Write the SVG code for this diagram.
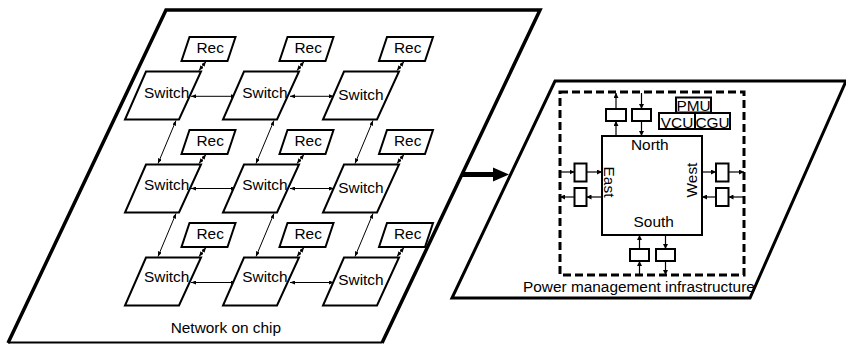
<svg xmlns="http://www.w3.org/2000/svg" width="846" height="344" viewBox="0 0 846 344">
<style>
text{font-family:"Liberation Sans",Arial,sans-serif;font-size:15.4px;fill:#000}
.sw,.rec{fill:#fff;stroke:#000;stroke-width:2;stroke-linejoin:miter}
.frame{fill:none;stroke:#000;stroke-width:3.5;stroke-linejoin:miter}
.c{stroke:#000;stroke-width:1;fill:none;marker-start:url(#as);marker-end:url(#ae)}
.p{stroke:#000;stroke-width:1.2;fill:none;marker-end:url(#pe)}
.reg{fill:#fff;stroke:#000;stroke-width:2}
.u{fill:#fff;stroke:#000;stroke-width:2}
</style>
<defs>
<marker id="ae" markerUnits="userSpaceOnUse" markerWidth="5" markerHeight="4" refX="5" refY="2" orient="auto"><path d="M0,0 L5,2 L0,4 z" fill="#000"/></marker>
<marker id="as" markerUnits="userSpaceOnUse" markerWidth="5" markerHeight="4" refX="0" refY="2" orient="auto"><path d="M5,0 L0,2 L5,4 z" fill="#000"/></marker>
<marker id="pe" markerUnits="userSpaceOnUse" markerWidth="5" markerHeight="5" refX="5" refY="2.5" orient="auto"><path d="M0,0 L5,2.5 L0,5 z" fill="#000"/></marker>
</defs>

<g id="noc-frame">
<path class="frame" d="M8,343 L166,10 L540,10 L382,343"/>
<line x1="8" y1="342.5" x2="382" y2="342.5" stroke="#000" stroke-width="1.8"/>
<text x="170.7" y="333">Network on chip</text>
</g>

<g id="connectors">
<line class="c" x1="191" y1="96.3" x2="236" y2="96.3"/>
<line class="c" x1="290" y1="96.3" x2="334" y2="96.3"/>
<line class="c" x1="191" y1="188.5" x2="236" y2="188.5"/>
<line class="c" x1="290" y1="188.5" x2="334" y2="188.5"/>
<line class="c" x1="191" y1="282.5" x2="236" y2="282.5"/>
<line class="c" x1="290" y1="282.5" x2="334" y2="282.5"/>
<line class="c" x1="176" y1="120.5" x2="158" y2="163.5"/>
<line class="c" x1="274" y1="120.5" x2="256" y2="163.5"/>
<line class="c" x1="373" y1="120.5" x2="355" y2="163.5"/>
<line class="c" x1="176" y1="213.5" x2="158" y2="256.5"/>
<line class="c" x1="274" y1="213.5" x2="256" y2="256.5"/>
<line class="c" x1="373" y1="213.5" x2="355" y2="256.5"/>
<line class="c" x1="199" y1="70.5" x2="206" y2="61.5"/>
<line class="c" x1="297" y1="70.5" x2="304" y2="61.5"/>
<line class="c" x1="397" y1="70.5" x2="404" y2="61.5"/>
<line class="c" x1="199" y1="163.5" x2="206" y2="154.5"/>
<line class="c" x1="297" y1="163.5" x2="304" y2="154.5"/>
<line class="c" x1="397" y1="163.5" x2="404" y2="154.5"/>
<line class="c" x1="199" y1="256.5" x2="206" y2="247.5"/>
<line class="c" x1="297" y1="256.5" x2="304" y2="247.5"/>
<line class="c" x1="397" y1="256.5" x2="404" y2="247.5"/>
<line x1="462" y1="174.5" x2="494" y2="174.5" stroke="#000" stroke-width="5"/>
<polygon points="493,167.5 509,174.5 493,181.5" fill="#000"/>
<line class="p" x1="616" y1="136" x2="616" y2="121"/>
<line class="p" x1="616" y1="109" x2="616" y2="93"/>
<line class="p" x1="641.5" y1="93" x2="641.5" y2="109"/>
<line class="p" x1="641.5" y1="121" x2="641.5" y2="136"/>
<line class="p" x1="560" y1="172" x2="574.5" y2="172"/>
<line class="p" x1="586.5" y1="172" x2="602" y2="172"/>
<line class="p" x1="602" y1="197" x2="586.5" y2="197"/>
<line class="p" x1="574.5" y1="197" x2="560" y2="197"/>
<line class="p" x1="702" y1="172" x2="716" y2="172"/>
<line class="p" x1="728.5" y1="172" x2="744" y2="172"/>
<line class="p" x1="744" y1="197" x2="728.5" y2="197"/>
<line class="p" x1="716" y1="197" x2="702" y2="197"/>
<line class="p" x1="639.5" y1="275" x2="639.5" y2="261"/>
<line class="p" x1="639.5" y1="249" x2="639.5" y2="235"/>
<line class="p" x1="665.5" y1="235" x2="665.5" y2="249"/>
<line class="p" x1="665.5" y1="261" x2="665.5" y2="275"/>
</g>

<g id="switch-1-1"><polygon class="sw" points="146,71.5 201,71.5 179,119.5 125,119.5"/><text x="144" y="97.5">Switch</text></g>
<g id="switch-1-2"><polygon class="sw" points="244,71.5 299,71.5 277,119.5 223,119.5"/><text x="242.3" y="97.5">Switch</text></g>
<g id="switch-1-3"><polygon class="sw" points="344,71.5 399,71.5 377,119.5 323,119.5"/><text x="338.3" y="100">Switch</text></g>
<g id="switch-2-1"><polygon class="sw" points="146,164.5 201,164.5 179,212.5 125,212.5"/><text x="144" y="189.5">Switch</text></g>
<g id="switch-2-2"><polygon class="sw" points="244,164.5 299,164.5 277,212.5 223,212.5"/><text x="242.3" y="189.5">Switch</text></g>
<g id="switch-2-3"><polygon class="sw" points="344,164.5 399,164.5 377,212.5 323,212.5"/><text x="338.3" y="192.5">Switch</text></g>
<g id="switch-3-1"><polygon class="sw" points="146,257.5 201,257.5 179,305.5 125,305.5"/><text x="144" y="282">Switch</text></g>
<g id="switch-3-2"><polygon class="sw" points="244,257.5 299,257.5 277,305.5 223,305.5"/><text x="242.3" y="282">Switch</text></g>
<g id="switch-3-3"><polygon class="sw" points="344,257.5 399,257.5 377,305.5 323,305.5"/><text x="338.3" y="285">Switch</text></g>

<g id="rec-1-1"><polygon class="rec" points="189.5,37 235.5,37 227.5,61 181.5,61"/><text x="196.5" y="52.5">Rec</text></g>
<g id="rec-1-2"><polygon class="rec" points="287.5,37 333.5,37 325.5,61 279.5,61"/><text x="294.5" y="52.5">Rec</text></g>
<g id="rec-1-3"><polygon class="rec" points="387,37 433,37 425,61 379,61"/><text x="394" y="52.5">Rec</text></g>
<g id="rec-2-1"><polygon class="rec" points="189.5,130 235.5,130 227.5,154 181.5,154"/><text x="196.5" y="145.5">Rec</text></g>
<g id="rec-2-2"><polygon class="rec" points="287.5,130 333.5,130 325.5,154 279.5,154"/><text x="294.5" y="145.5">Rec</text></g>
<g id="rec-2-3"><polygon class="rec" points="387,130 433,130 425,154 379,154"/><text x="394" y="145.5">Rec</text></g>
<g id="rec-3-1"><polygon class="rec" points="189.5,223 235.5,223 227.5,247 181.5,247"/><text x="196.5" y="238.5">Rec</text></g>
<g id="rec-3-2"><polygon class="rec" points="287.5,223 333.5,223 325.5,247 279.5,247"/><text x="294.5" y="238.5">Rec</text></g>
<g id="rec-3-3"><polygon class="rec" points="387,223 433,223 425,247 379,247"/><text x="394" y="238.5">Rec</text></g>

<g id="pm-frame">
<polygon class="frame" points="555,81 846,81 750,298 452,298" style="stroke-width:3"/>
<rect x="560" y="92" width="184" height="183" fill="none" stroke="#000" stroke-width="3" stroke-dasharray="8,4"/>
<text x="523" y="291.5">Power management infrastructure</text>
</g>

<g id="router">
<rect x="602" y="136" width="100" height="99" fill="#fff" stroke="#000" stroke-width="2"/>
<text x="649.8" y="150" text-anchor="middle">North</text>
<text x="653.7" y="227" text-anchor="middle">South</text>
<text transform="translate(604,182) rotate(90)" text-anchor="middle">East</text>
<text transform="translate(697,180) rotate(-90)" text-anchor="middle">West</text>
</g>

<g id="registers">
<rect class="reg" x="606" y="109" width="20" height="12"/>
<rect class="reg" x="632" y="109" width="19" height="12"/>
<rect class="reg" x="574.5" y="163.5" width="12" height="18"/>
<rect class="reg" x="574.5" y="188" width="12" height="18"/>
<rect class="reg" x="716" y="163.5" width="12.5" height="18"/>
<rect class="reg" x="716" y="188" width="12.5" height="18"/>
<rect class="reg" x="630" y="249" width="19" height="12"/>
<rect class="reg" x="656" y="249" width="19" height="12"/>
</g>

<g id="pmu"><rect class="u" x="676" y="97.5" width="35" height="15"/><text x="693.5" y="110.5" text-anchor="middle">PMU</text></g>
<g id="vcu"><rect class="u" x="659" y="113" width="36" height="16"/><text x="677" y="127.5" text-anchor="middle">VCU</text></g>
<g id="cgu"><rect class="u" x="695" y="113" width="35" height="16"/><text x="712.5" y="127.5" text-anchor="middle">CGU</text></g>
</svg>
